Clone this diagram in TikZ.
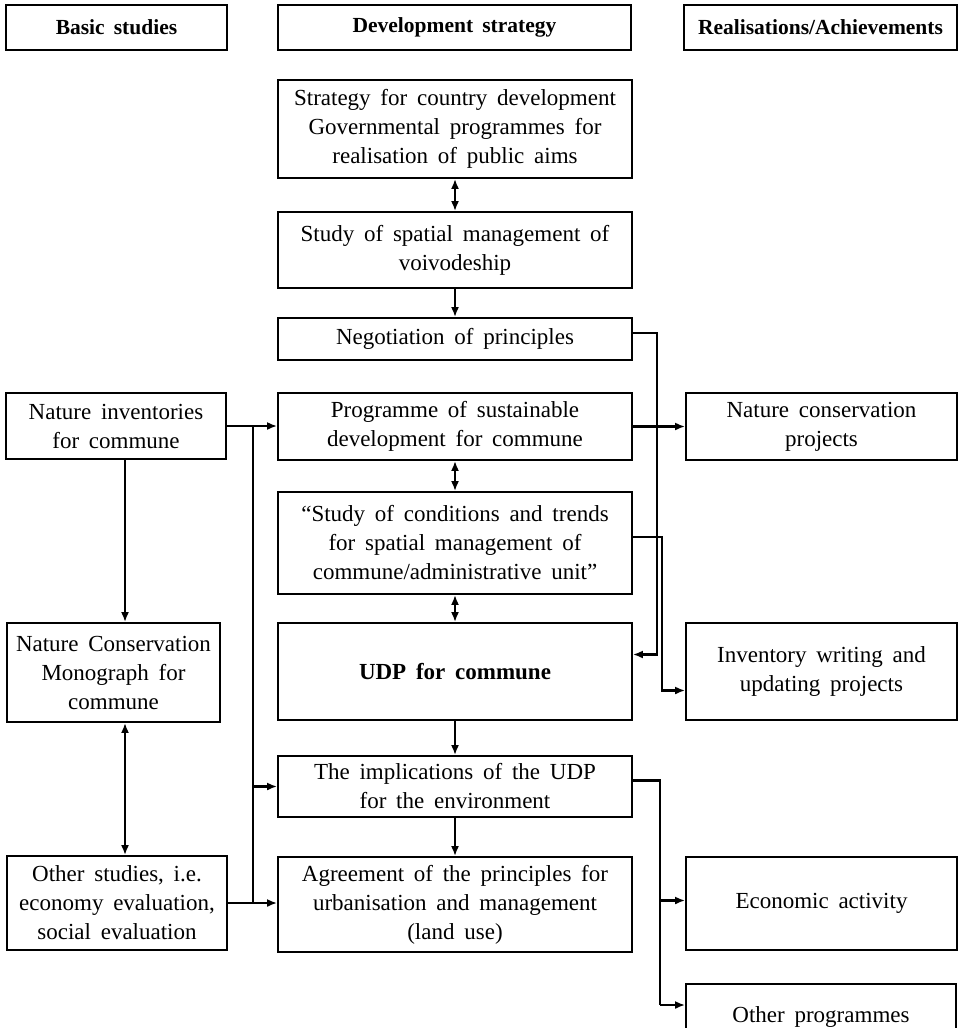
\documentclass[tikz,border=0pt]{standalone}
\usepackage{fontspec}
\setmainfont{Liberation Serif}[WordSpace=1.7]
\usetikzlibrary{arrows.meta,calc}
\begin{document}
\begin{tikzpicture}[x=1pt,y=-1pt,
  box/.style={draw, line width=1.8pt, inner sep=0pt, align=center,
    font=\fontsize{23}{29}\selectfont},
  head/.style={box, font=\fontsize{21.5}{26}\selectfont\bfseries},
  conn/.style={line width=2.3pt},
  arr/.style={conn, -{Latex[length=10pt,width=8pt]}},
  darr/.style={conn, {Latex[length=10pt,width=8pt]}-{Latex[length=10pt,width=8pt]}}]
\useasboundingbox (0,0) rectangle (963,1028);
\clip (0,0) rectangle (963,1028);
% headers
\node[head, minimum width=221pt, minimum height=45pt] (hb) at (116.5,27.5) {Basic studies};
\node[head, minimum width=353pt, minimum height=45pt] (hd) at (454.5,27.5) {Development strategy};
\node[head, minimum width=273pt, minimum height=45pt] (hr) at (820.5,27.5) {Realisations/Achievements};
% middle column
\node[box, minimum width=354pt, minimum height=98pt] (strat) at (455,129) {Strategy for country development\\ Governmental programmes for\\ realisation of public aims};
\node[box, minimum width=354pt, minimum height=76pt] (spat) at (455,250) {Study of spatial management of\\ voivodeship};
\node[box, minimum width=354pt, minimum height=42pt] (neg) at (455,339) {Negotiation of principles};
\node[box, minimum width=354pt, minimum height=67pt] (prog) at (455,426.5) {Programme of sustainable\\ development for commune};
\node[box, minimum width=354pt, minimum height=102pt] (cond) at (455,543) {“Study of conditions and trends\\ for spatial management of\\ commune/administrative unit”};
\node[box, minimum width=354pt, minimum height=97pt] (udp) at (455,671.5) {\textbf{UDP for commune}};
\node[box, minimum width=354pt, minimum height=61pt] (impl) at (455,786.5) {The implications of the UDP\\ for the environment};
\node[box, minimum width=354pt, minimum height=95pt] (agr) at (455,904.5) {Agreement of the principles for\\ urbanisation and management\\ (land use)};
% left column
\node[box, minimum width=220pt, minimum height=66pt] (ninv) at (116,426) {Nature inventories\\ for commune};
\node[box, minimum width=213pt, minimum height=99pt] (mono) at (113.5,672.5) {Nature Conservation\\ Monograph for\\ commune};
\node[box, minimum width=220pt, minimum height=94pt] (oth) at (117,903) {Other studies, i.e.\\ economy evaluation,\\ social evaluation};
% right column
\node[box, minimum width=271pt, minimum height=67pt] (ncp) at (821.5,426.5) {Nature conservation\\ projects};
\node[box, minimum width=271pt, minimum height=97pt] (inv) at (821.5,671.5) {Inventory writing and\\ updating projects};
\node[box, minimum width=271pt, minimum height=93pt] (eco) at (821.5,903.5) {Economic activity};
\node[box, minimum width=270pt, minimum height=66pt] (othp) at (821,1017) {Other programmes};
% bus coordinates
\coordinate (bx) at (253,0);
\coordinate (r1) at (657,0);
\coordinate (r2) at (662,0);
\coordinate (r3) at (660,0);
% middle connectors
\draw[darr] (strat.south) -- (spat.north);
\draw[arr] (spat.south) -- (neg.north);
\draw[darr] (prog.south) -- (cond.north);
\draw[darr] (cond.south) -- (udp.north);
\draw[arr] (udp.south) -- (impl.north);
\draw[arr] (impl.south) -- (agr.north);
% negotiation to UDP
\draw[arr] ([yshift=6pt]neg.east) -- ([yshift=6pt]neg.east -| r1) -- ([yshift=17pt]udp.east -| r1) -- ([yshift=17pt]udp.east);
% programme to nature conservation projects
\draw[arr] (prog.east) -- (prog.east -| ncp.west);
% conditions to inventory
\draw[arr] ([yshift=6pt]cond.east) -- ([yshift=6pt]cond.east -| r2) -- ([yshift=-19pt]inv.west -| r2) -- ([yshift=-19pt]inv.west);
% implications to economic / other programmes
\draw[conn] ([yshift=6pt]impl.east) -- ([yshift=6pt]impl.east -| r3) -- ([yshift=12pt]othp.west -| r3);
\draw[arr] ([yshift=12pt]othp.west -| r3) -- ([yshift=12pt]othp.west);
\draw[arr] ([yshift=3pt]eco.west -| r3) -- ([yshift=3pt]eco.west);
% left side
\draw[arr] (ninv.east) -- (ninv.east -| prog.west);
\draw[conn] (ninv.east -| bx) -- (oth.east -| bx);
\draw[arr] (impl.west -| bx) -- (impl.west);
\draw[arr] (oth.east) -- (oth.east -| agr.west);
\draw[arr] ([xshift=9pt]ninv.south) -- ([xshift=9pt]ninv.south |- mono.north);
\draw[darr] ([xshift=9pt]ninv.south |- mono.south) -- ([xshift=9pt]ninv.south |- oth.north);
\end{tikzpicture}
\end{document}
